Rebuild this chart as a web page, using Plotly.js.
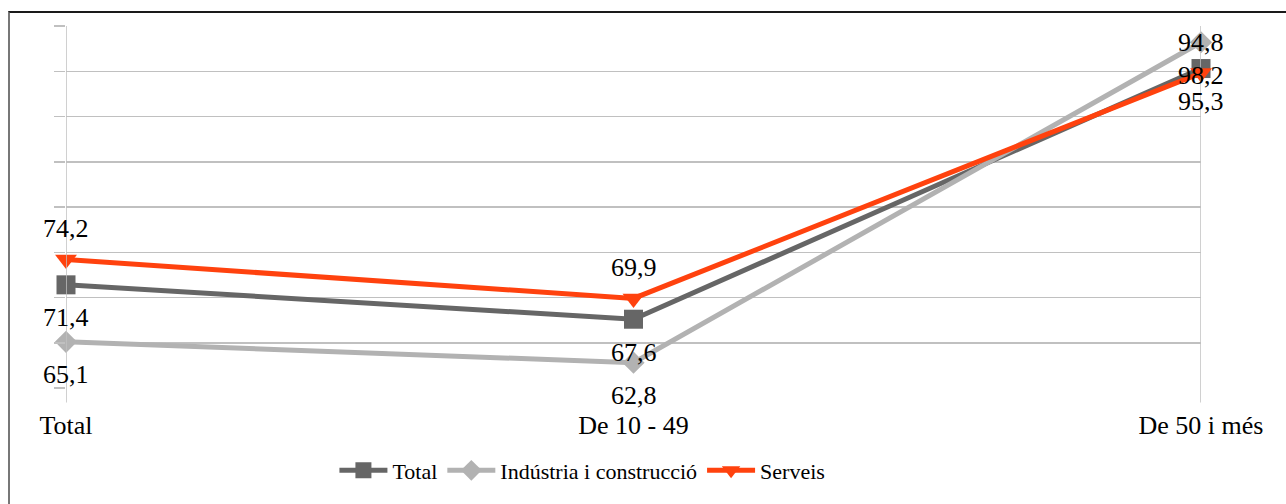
<!DOCTYPE html>
<html>
<head>
<meta charset="utf-8">
<script src="https://cdn.plot.ly/plotly-3.0.1.min.js"></script>
<style>
html,body{margin:0;padding:0;background:#fff;}
#wrap{position:relative;width:1286px;height:504px;}
#chart{width:1286px;height:504px;}
#frame{position:absolute;left:8px;top:11px;right:0;bottom:0;border-top:2px solid #1a1a1a;border-left:2px solid #777;pointer-events:none;}
</style>
</head>
<body>
<div id="wrap"><div id="chart"></div><div id="frame"></div></div>
<script>
const categories = ["Total", "De 10 - 49", "De 50 i més"];
const seriesNames = ["Total", "Indústria i construcció", "Serveis"];
const totalValues = [71.4, 67.6, 95.3];
const industryValues = [65.1, 62.8, 98.2];
const serveisValues = [74.2, 69.9, 94.8];

const colors = ["#666666", "#b2b2b2", "#ff420e"];
const symbols = ["square", "diamond", "triangle-down"];
const sizes = [19, 17, 19];
const labelShift = [-33, -33, 31];
const allValues = [totalValues, industryValues, serveisValues];

const font = "Liberation Serif, Times New Roman, serif";

const traces = allValues.map((vals, i) => ({
  type: "scatter",
  mode: "lines+markers",
  name: seriesNames[i],
  x: categories,
  y: vals,
  line: {color: colors[i], width: 5},
  marker: {symbol: symbols[i], size: sizes[i], color: colors[i]},
  cliponaxis: false,
  hoverinfo: "skip"
}));

const annotations = [];
allValues.forEach((vals, i) => {
  vals.forEach((v, j) => {
    annotations.push({
      x: categories[j], y: v, xref: "x", yref: "y",
      text: v.toFixed(1).replace(".", ","),
      showarrow: false, yshift: labelShift[i],
      font: {family: font, size: 26, color: "#000"}
    });
  });
});

const shapes = [0, 2].map(xi => ({
  type: "line", xref: "x", yref: "paper",
  x0: xi, x1: xi, y0: -0.04, y1: 1,
  line: {color: "#c0c0c0", width: 1.5}
}));

const layout = {
  width: 1286, height: 504,
  margin: {l: 66, r: 85, t: 26, b: 116},
  paper_bgcolor: "#fff", plot_bgcolor: "#fff",
  showlegend: true,
  legend: {orientation: "h", x: 0.455, xanchor: "center", y: -0.17, yanchor: "top",
    font: {family: font, size: 22, color: "#000"}, tracegroupgap: 0, itemwidth: 48},
  xaxis: {
    type: "category", range: [0, 2], showgrid: false, zeroline: false,
    showline: false, ticks: "", ticklabelstandoff: 19,
    tickfont: {family: font, size: 26, color: "#000"}
  },
  yaxis: {
    range: [60, 100], dtick: 5, tick0: 60, showgrid: true, gridcolor: "#c0c0c0", gridwidth: 1.5,
    zeroline: false, showline: false, showticklabels: false,
    ticks: "outside", ticklen: 11, tickcolor: "#c0c0c0", tickwidth: 1.5
  },
  shapes: shapes,
  annotations: annotations
};

Plotly.newPlot("chart", traces, layout, {displayModeBar: false, staticPlot: true});
</script>
</body>
</html>
